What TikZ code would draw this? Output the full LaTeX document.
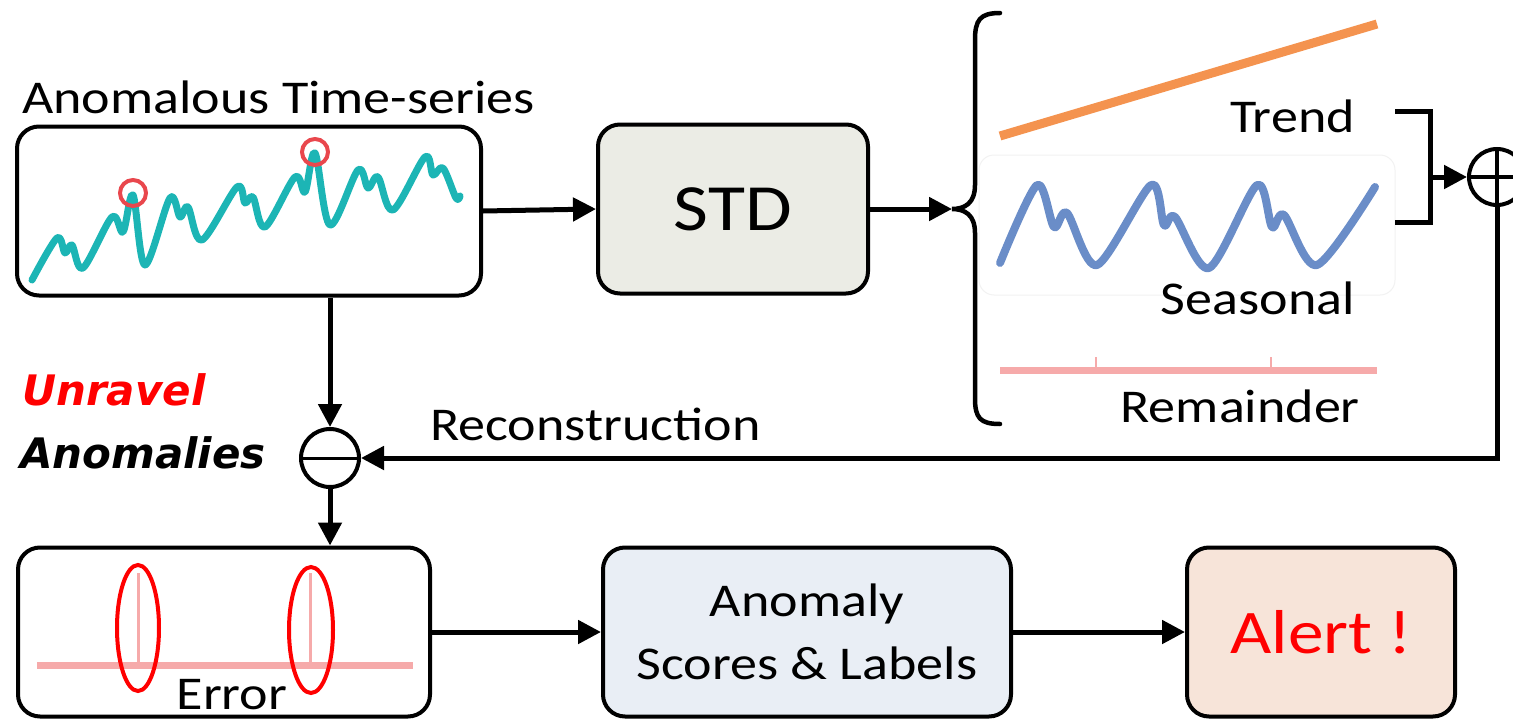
\documentclass[tikz,border=0pt]{standalone}
\usepackage{fontspec}
\setmainfont[FakeStretch=1.15]{Carlito}
\newfontfamily\unravelfont{DejaVu Sans}
\usetikzlibrary{arrows.meta}

\definecolor{tsteal}{HTML}{1CB5B5}
\definecolor{ptred}{HTML}{E9474D}
\definecolor{trendorange}{HTML}{F4934F}
\definecolor{seasblue}{HTML}{6A8DC8}
\definecolor{rempink}{HTML}{F6AAAA}
\definecolor{stdfill}{HTML}{EBECE5}
\definecolor{scorefill}{HTML}{E9EEF5}
\definecolor{alertfill}{HTML}{F7E4D9}

\begin{document}
\begin{tikzpicture}[x=1pt,y=-1pt,
  box/.style={draw,line width=4pt,rounded corners=22pt,minimum width=#1,minimum height=169pt,inner sep=0pt},
  flow/.style={line width=5pt,-{Triangle[length=23pt,width=23pt]}},
  lbl/.style={font=\fontsize{47}{63}\selectfont,inner sep=0pt},
  junc/.style={draw,circle,line width=4pt,minimum size=56pt,inner sep=0pt}]
\useasboundingbox (0,0) rectangle (1513,720);

% input series
\node[box=464pt] (ts) at (249,211) {};
\node[lbl,anchor=base west] (tstitle) at (22,113) {Anomalous Time-series};
\draw[tsteal,line width=7pt,line cap=round,line join=round] plot[smooth,tension=0.55] coordinates {
  (32,280) (57,238) (65,253) (72,245) (83,268) (112,217) (123,232) (133,195) (145,265)
  (170,198) (180,217) (188,207) (202,240) (237,187) (245,203) (253,197) (265,227)
  (295,177) (305,192) (315,153) (330,225) (358,170) (368,188) (378,177) (393,210)
  (425,157) (433,175) (443,168) (456,198) (460,196)};
\foreach \p in {(133,193),(315,152)}
  \draw[ptred,line width=4pt] \p circle (13pt);

% decomposition
\node[box=270pt,fill=stdfill,font=\fontsize{66}{70}\selectfont] (std) at (733,209) {STD};
\coordinate (tip) at (952,209);
\draw[line width=4.5pt,line cap=round] (1000,13) .. controls (980,13) and (975,20) .. (975,40)
  -- (975,185) .. controls (975,203) and (965,209) .. (tip)
  .. controls (965,209) and (975,215) .. (975,233) -- (975,398)
  .. controls (975,418) and (980,424) .. (1000,424);
\draw[flow] (ts.east) -- (std.west);
\draw[flow] (std.east) -- (tip);

\draw[trendorange,line width=9pt] (1000,136) -- (1377,24);
\draw[black!5,line width=1pt,rounded corners=15pt,fill=white] (979,155) rectangle (1395,295);
\draw[seasblue,line width=8pt,line cap=round,line join=round] plot[smooth,tension=0.5] coordinates {
  (1000,263) (1037,185) (1054,227) (1067,213) (1097,265) (1151,185) (1164,225) (1175,217)
  (1209,268) (1257,185) (1272,227) (1284,215) (1317,265) (1375,187)};
\draw[rempink,line width=7pt] (1000,370) -- (1377,370);
\foreach \x in {1096,1271}
  \draw[rempink,line width=2.5pt] (\x,370) -- (\x,357);
\node[lbl,anchor=base east] (trend) at (1355,132) {Trend};
\node[lbl,anchor=base east] (seas) at (1355,314) {Seasonal};
\node[lbl,anchor=base east] (rem) at (1360,422) {Remainder};

% recombine
\draw[line width=5pt] (1395,111) -- (1430,111) -- (1430,222) -- (1395,222);
\coordinate (brk) at (1430,177);
\node[junc] (add) at (1497,177) {};
\draw[line width=4pt] (add.north) -- (add.south) (add.west) -- (add.east);
\draw[flow] (brk) -- (add.west);

\node[junc,minimum size=58pt] (sub) at (330,458) {};
\draw[line width=3pt] (sub.west) -- (sub.east);
\draw[flow] (add.south) |- (sub.east);
\node[lbl,anchor=base west] (recon) at (430,440) {Reconstruction};
\draw[flow] (ts.south -| sub.north) -- (sub.north);

\node[anchor=base west,inner sep=0pt,text=red,font=\unravelfont\bfseries\itshape\fontsize{42}{46}\selectfont] (unr) at (22,405) {Unravel};
\node[anchor=base west,inner sep=0pt,font=\unravelfont\bfseries\itshape\fontsize{42}{46}\selectfont] (anom) at (20,468) {Anomalies};

% error and output
\node[box=412pt] (err) at (224,632) {};
\draw[flow] (sub.south) -- (sub.south |- err.north);
\draw[rempink,line width=7pt] (37,665) -- (413,665);
\foreach \x in {138,310}
  \draw[rempink,line width=3pt] (\x,665) -- (\x,573);
\draw[red,line width=4pt] (138,628) ellipse [x radius=21pt,y radius=63pt];
\draw[red,line width=4pt] (311,630) ellipse [x radius=22pt,y radius=63pt];
\node[lbl,anchor=base] (errlbl) at (232,709) {Error};

\node[box=408pt,fill=scorefill,lbl,align=center] (score) at (807,632) {Anomaly\\Scores \& Labels};
\node[box=268pt,fill=alertfill,text=red,font=\fontsize{62}{66}\selectfont] (alert) at (1321,632) {Alert !};
\draw[flow] (err.east) -- (score.west);
\draw[flow] (score.east) -- (alert.west);
\end{tikzpicture}
\end{document}
